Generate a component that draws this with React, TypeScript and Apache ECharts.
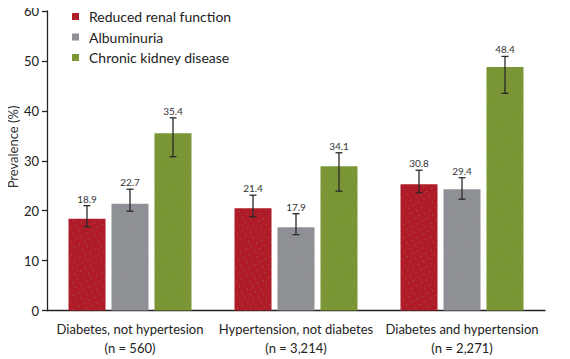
import React, { useEffect, useRef } from "react";
import * as echarts from "echarts";

const categories = [
  "Diabetes, not hypertesion\n(n = 560)",
  "Hypertension, not diabetes\n(n = 3,214)",
  "Diabetes and hypertension\n(n = 2,271)",
];
const seriesNames = ["Reduced renal function", "Albuminuria", "Chronic kidney disease"];

const reducedValues = [18.4, 20.5, 25.3];
const reducedLow = [16.8, 18.8, 23.6];
const reducedHigh = [21.0, 23.1, 28.1];
const reducedLabels = ["18.9", "21.4", "30.8"];

const albuminValues = [21.4, 16.7, 24.3];
const albuminLow = [19.9, 15.2, 22.3];
const albuminHigh = [24.3, 19.4, 26.6];
const albuminLabels = ["22.7", "17.9", "29.4"];

const ckdValues = [35.5, 28.9, 48.8];
const ckdLow = [30.8, 23.9, 43.5];
const ckdHigh = [38.6, 31.6, 50.9];
const ckdLabels = ["35.4", "34.1", "48.4"];

const colors = ["#B01B29", "#8F9095", "#7A9533"];
const dotColors = ["rgba(120,170,90,0.55)", "rgba(150,175,200,0.5)", "rgba(200,170,150,0.35)"];

const FONT = "Lato, 'Noto Sans', sans-serif";
const BAR_W = 37;
const BAR_GAP = 6;

export default function App() {
  const ref = useRef<HTMLDivElement>(null);
  useEffect(() => {
    if (!ref.current) return;
    const chart = echarts.init(ref.current, null, { renderer: "svg" });
    const values = [reducedValues, albuminValues, ckdValues];
    const lows = [reducedLow, albuminLow, ckdLow];
    const highs = [reducedHigh, albuminHigh, ckdHigh];
    const labels = [reducedLabels, albuminLabels, ckdLabels];

    const barSeries = values.map((v, s) => ({
      name: seriesNames[s],
      type: "bar",
      data: v,
      barWidth: BAR_W,
      barGap: ((BAR_GAP / BAR_W) * 100).toFixed(1) + "%",
      itemStyle: {
        color: colors[s],
        decal: {
          symbol: "rect",
          symbolSize: 1,
          color: dotColors[s],
          dashArrayX: [1, 5],
          dashArrayY: [1, 5],
          rotation: -0.5,
        },
      },
      z: 2,
    }));

    const errSeries = values.map((_, s) => ({
      type: "custom",
      name: seriesNames[s] + " err",
      data: categories.map((_, i) => [i, lows[s][i], highs[s][i]]),
      encode: { x: 0, y: [1, 2] },
      z: 5,
      silent: true,
      renderItem: (params: any, api: any) => {
        const i = api.value(0);
        const lo = api.coord([i, api.value(1)]);
        const hi = api.coord([i, api.value(2)]);
        const x = lo[0] + (s - 1) * (BAR_W + BAR_GAP);
        const cap = 3.5;
        const st = { stroke: "#2a2a2a", lineWidth: 1.3 };
        return {
          type: "group",
          children: [
            { type: "line", shape: { x1: x, y1: lo[1], x2: x, y2: hi[1] }, style: st },
            { type: "line", shape: { x1: x - cap, y1: lo[1], x2: x + cap, y2: lo[1] }, style: st },
            { type: "line", shape: { x1: x - cap, y1: hi[1], x2: x + cap, y2: hi[1] }, style: st },
            {
              type: "text",
              x: x,
              y: hi[1] - 7,
              style: {
                text: labels[s][params.dataIndex],
                fontSize: 10,
                fontFamily: FONT,
                fill: "#333",
                align: "center",
                verticalAlign: "middle",
              },
            },
          ],
        };
      },
    }));

    chart.setOption({
      animation: false,
      textStyle: { fontFamily: FONT },
      grid: { left: 47, right: 25, top: 11, bottom: 48.5, containLabel: false },
      legend: {
        data: seriesNames,
        orient: "vertical",
        left: 72,
        top: 9,
        padding: 0,
        itemWidth: 7,
        itemHeight: 7,
        itemGap: 5.5,
        icon: "rect",
        textStyle: {
          fontSize: 14,
          color: "#222",
          fontFamily: FONT,
          lineHeight: 15,
          padding: [0, 0, 0, 5],
        },
      },
      xAxis: {
        type: "category",
        data: categories,
        axisLine: { lineStyle: { color: "#222", width: 1.3 } },
        axisTick: { length: 4, lineStyle: { color: "#222", width: 1.3 } },
        axisLabel: {
          interval: 0,
          fontSize: 13,
          lineHeight: 19,
          color: "#222",
          margin: 9,
          fontFamily: FONT,
        },
      },
      yAxis: {
        type: "value",
        min: 0,
        max: 60,
        interval: 10,
        splitLine: { show: false },
        axisLine: { show: true, lineStyle: { color: "#222", width: 1.3 } },
        axisTick: { show: true, length: 5, lineStyle: { color: "#222", width: 1.3 } },
        axisLabel: { fontSize: 13, color: "#222", margin: 8, fontFamily: FONT },
      },
      graphic: [
        {
          type: "text",
          x: 13,
          y: 147,
          rotation: Math.PI / 2,
          style: {
            text: "Prevalence (%)",
            fontSize: 13,
            fontFamily: FONT,
            fill: "#333",
            align: "center",
            verticalAlign: "middle",
          },
        },
      ],
      series: [...barSeries, ...errSeries],
    });
    return () => chart.dispose();
  }, []);
  return <div ref={ref} style={{ width: 570, height: 359, marginLeft: -8, marginTop: -8 }} />;
}
